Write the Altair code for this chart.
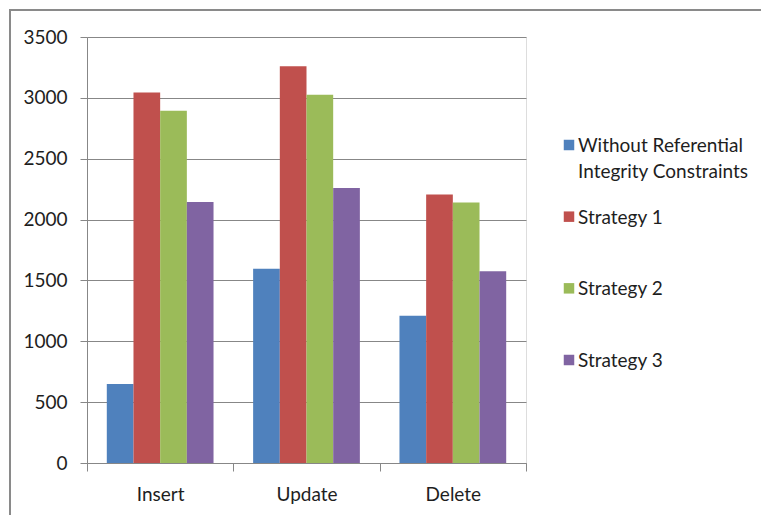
import altair as alt
import pandas as pd

operations = ["Insert", "Update", "Delete"]
series = [
    "Without Referential Integrity Constraints",
    "Strategy 1",
    "Strategy 2",
    "Strategy 3",
]
legend_labels = [
    "Without Referential\nIntegrity Constraints",
    "Strategy 1",
    "Strategy 2",
    "Strategy 3",
]
without_ric = [650, 1595, 1210]
strategy_1 = [3045, 3260, 2205]
strategy_2 = [2895, 3025, 2140]
strategy_3 = [2145, 2260, 1575]
colors = ["#4F81BD", "#C0504D", "#9BBB59", "#8064A2"]
y_ticks = [0, 500, 1000, 1500, 2000, 2500, 3000, 3500]

values = [without_ric, strategy_1, strategy_2, strategy_3]
rows = []
for s, vals in zip(series, values):
    for op, v in zip(operations, vals):
        rows.append({"operation": op, "series": s, "value": v})
df = pd.DataFrame(rows)

legend_df = pd.DataFrame({"series": series, "label": legend_labels})

FONT = "Lato"
GRAY = "#878787"
TEXT = "#1e1e1e"

color_scale = alt.Scale(domain=series, range=colors)

bars = alt.Chart(df).mark_bar().encode(
    x=alt.X(
        "operation:N",
        sort=operations,
        scale=alt.Scale(paddingInner=0, paddingOuter=0),
        axis=alt.Axis(
            title=None,
            labelAngle=0,
            tickBand="extent",
            tickSize=8,
            tickColor=GRAY,
            domainColor=GRAY,
            labelPadding=14,
            labelFontSize=19,
            labelFont=FONT,
            labelColor=TEXT,
            grid=False,
        ),
    ),
    xOffset=alt.XOffset(
        "series:N",
        sort=series,
        scale=alt.Scale(paddingInner=0, paddingOuter=0.742),
    ),
    y=alt.Y(
        "value:Q",
        scale=alt.Scale(domain=[0, 3500], nice=False),
        axis=alt.Axis(
            title=None,
            values=y_ticks,
            format="d",
            tickSize=7,
            tickColor=GRAY,
            domainColor=GRAY,
            gridColor=GRAY,
            labelPadding=13,
            labelFontSize=19,
            labelFont=FONT,
            labelColor=TEXT,
        ),
    ),
    color=alt.Color("series:N", scale=color_scale, legend=None),
)

border_left = alt.Chart(alt.Data(values=[{}])).mark_rule(
    stroke="#8a8a8a", strokeWidth=2
).encode(
    x=alt.value(-77),
    y=alt.value(-28),
    y2=alt.value(478),
)
border_top = alt.Chart(alt.Data(values=[{}])).mark_rule(
    stroke="#8a8a8a", strokeWidth=2
).encode(
    x=alt.value(-78),
    x2=alt.value(674),
    y=alt.value(-27),
)

leg_y = alt.Y(
    "series:N",
    sort=series,
    scale=alt.Scale(domain=series, range=[108, 323], padding=0),
    axis=None,
)

leg_sym = alt.Chart(legend_df).mark_point(
    shape="square", filled=True, size=110, opacity=1
).encode(
    x=alt.value(482),
    y=leg_y,
    color=alt.Color("series:N", scale=color_scale, legend=None),
)

leg_txt = alt.Chart(legend_df).mark_text(
    align="left", baseline="alphabetic", dy=7, lineBreak="\n",
    lineHeight=26, font=FONT, fontSize=19, color=TEXT,
).encode(
    x=alt.value(491),
    y=leg_y,
    text="label:N",
)

chart = alt.layer(border_left, border_top, bars, leg_sym, leg_txt).resolve_scale(
    y="independent"
).properties(
    width=439,
    height=426,
    padding={"left": 87, "top": 37, "right": 235, "bottom": 52},
    autosize=alt.AutoSizeParams(type="none"),
).configure_view(stroke=None).configure(background="white")

chart.save("out.html", embed_options={"renderer": "svg", "actions": False})
